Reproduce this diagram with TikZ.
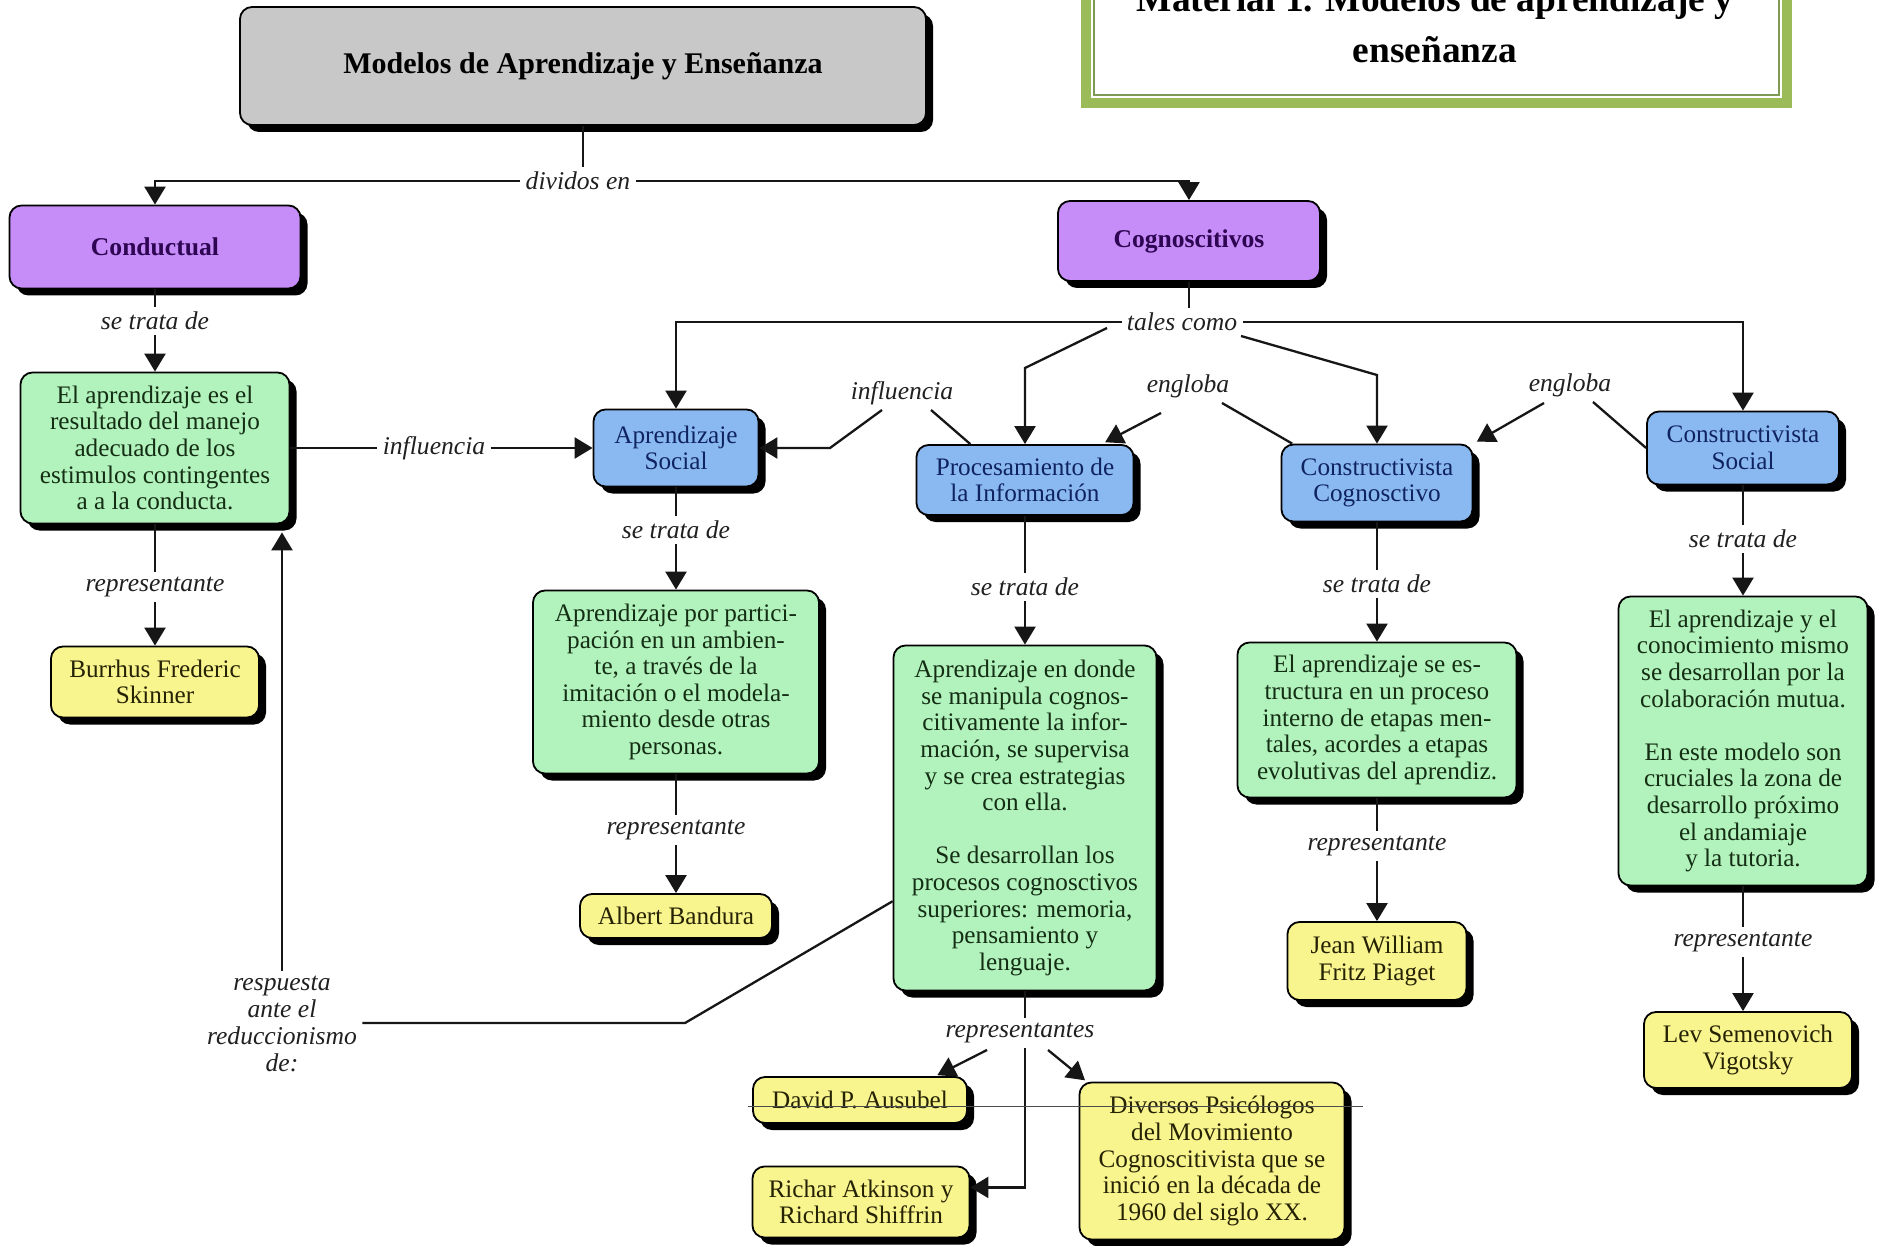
\documentclass[tikz,border=0pt]{standalone}
\usepackage{fontspec}
\setmainfont{Liberation Serif}
\usetikzlibrary{arrows.meta,shadows,calc}

\definecolor{rootgray}{HTML}{C8C8C8}
\definecolor{catpurple}{HTML}{C68CF7}
\definecolor{cattext}{HTML}{2E0552}
\definecolor{modelblue}{HTML}{8AB9F1}
\definecolor{modeltext}{HTML}{0F2360}
\definecolor{ideagreen}{HTML}{B2F2BC}
\definecolor{ideatext}{HTML}{142E14}
\definecolor{personyellow}{HTML}{F8F48E}
\definecolor{persontext}{HTML}{262204}
\definecolor{labeltext}{HTML}{202020}
\definecolor{linecol}{HTML}{161616}
\definecolor{framegreen}{HTML}{9BBB59}
\definecolor{frameinner}{HTML}{7E9A55}

\tikzset{
  conn/.style={draw=linecol, line width=1.15pt},
  arr/.style={conn, -{Triangle[width=10.5pt,length=9pt]}},
  sz/.style 2 args={minimum width=#1*0.5pt, minimum height=#2*0.5pt},
  cbox/.style={draw=black, line width=0.9pt, rounded corners=6pt, align=center,
    inner sep=1pt, font=\fontsize{12.6}{13.3}\selectfont,
    drop shadow={shadow xshift=3.5pt, shadow yshift=-3.5pt, opacity=1, fill=black}},
  rootbox/.style={cbox, fill=rootgray, text=black, font=\fontsize{15}{17}\selectfont\bfseries},
  catbox/.style={cbox, fill=catpurple, text=cattext, font=\fontsize{12.8}{14}\selectfont\bfseries},
  modelbox/.style={cbox, fill=modelblue, text=modeltext},
  ideabox/.style={cbox, fill=ideagreen, text=ideatext},
  personbox/.style={cbox, fill=personyellow, text=persontext},
  lbl/.style={fill=white, inner sep=2.5pt, text=labeltext, align=center,
    font=\fontsize{12.8}{13.5}\selectfont\itshape},
  titletext/.style={inner sep=0pt, text=black, font=\fontsize{18.7}{22}\selectfont\bfseries},
}

\begin{document}
\begin{tikzpicture}[x=0.5pt,y=-0.5pt]
\useasboundingbox (0,0) rectangle (1881,1246);
\clip (0,0) rectangle (1881,1246);
\fill[white] (0,0) rectangle (1881,1246);

% framed heading in the upper right corner
\draw[framegreen, line width=5pt] (1086,-40) rectangle (1787,103);
\draw[frameinner, line width=0.8pt] (1094,-40) rectangle (1779,95);
\node[titletext, anchor=base] (mat1) at (1435,12) {Material 1. Modelos de aprendizaje y};
\node[titletext, anchor=base] (mat2) at (1435,63) {enseñanza};

% root and categories
\node[rootbox, sz={686}{118}] (top) at (583,66) {Modelos de Aprendizaje y Enseñanza};
\node[catbox, sz={291}{83}] (cond) at (155,247) {Conductual};
\node[catbox, sz={262}{80}] (cogn) at (1189,241) {Cognoscitivos};

% conductual branch
\node[ideabox, sz={269}{151}] (g1) at (155,448)
  {El aprendizaje es el\\resultado del manejo\\adecuado de los\\estimulos contingentes\\a a la conducta.};
\node[personbox, sz={208}{71}] (skinner) at (155,682) {Burrhus Frederic\\Skinner};

% cognitive models
\node[modelbox, sz={165}{77}] (asoc) at (676,448) {Aprendizaje\\Social};
\node[modelbox, sz={217}{70}] (proc) at (1025,480) {Procesamiento de\\la Información};
\node[modelbox, sz={191}{77}] (ccog) at (1377,483) {Constructivista\\Cognosctivo};
\node[modelbox, sz={192}{73}] (csoc) at (1743,448) {Constructivista\\Social};

% descriptions
\node[ideabox, sz={286}{183}] (g2) at (676,682)
  {Aprendizaje por partici-\\pación en un ambien-\\te, a través de la\\imitación o el modela-\\miento desde otras\\personas.};
\node[ideabox, sz={263}{345}] (g3) at (1025,818)
  {Aprendizaje en donde\\se manipula cognos-\\citivamente la infor-\\mación, se supervisa\\y se crea estrategias\\con ella.\\[13.3pt]Se desarrollan los\\procesos cognosctivos\\superiores: memoria,\\pensamiento y\\lenguaje.};
\node[ideabox, sz={279}{155}] (g4) at (1377,720)
  {El aprendizaje se es-\\tructura en un proceso\\interno de etapas men-\\tales, acordes a etapas\\evolutivas del aprendiz.};
\node[ideabox, sz={249}{289}] (g5) at (1743,741)
  {El aprendizaje y el\\conocimiento mismo\\se desarrollan por la\\colaboración mutua.\\[13.3pt]En este modelo son\\cruciales la zona de\\desarrollo próximo\\el andamiaje\\y la tutoria.};

% representatives
\node[personbox, sz={192}{44}] (bandura) at (676,916) {Albert Bandura};
\node[personbox, sz={179}{78}] (piaget) at (1377,961) {Jean William\\Fritz Piaget};
\node[personbox, sz={208}{76}] (vig) at (1748,1050) {Lev Semenovich\\Vigotsky};
\node[personbox, sz={214}{46}] (david) at (860,1100) {David P. Ausubel};
\node[personbox, sz={217}{71}] (richar) at (861,1202) {Richar Atkinson y\\Richard Shiffrin};
\node[personbox, sz={265}{157}] (diversos) at (1212,1161)
  {Diversos Psicólogos\\del Movimiento\\Cognoscitivista que se\\inició en la década de\\1960 del siglo XX.};

% linking phrases
\node[lbl] (div) at (578,181) {dividos en};
\node[lbl] (tal) at (1182,322) {tales como};
\node[lbl] (st1) at (155,321) {se trata de};
\node[lbl] (inf1) at (434,448) {influencia};
\node[lbl] (rp1) at (155,587) {representante};
\node[lbl] (resp) at (282,1024) {respuesta\\ante el\\reduccionismo\\de:};
\node[lbl] (st2) at (676,530) {se trata de};
\node[lbl] (rp2) at (676,830) {representante};
\node[lbl] (inf2) at (902,393) {influencia};
\node[lbl] (eng1) at (1188,386) {engloba};
\node[lbl] (eng2) at (1570,385) {engloba};
\node[lbl] (st3) at (1025,587) {se trata de};
\node[lbl] (reps) at (1020,1033) {representantes};
\node[lbl] (st4) at (1377,584) {se trata de};
\node[lbl] (rp4) at (1377,846) {representante};
\node[lbl] (st5) at (1743,539) {se trata de};
\node[lbl] (rp5) at (1743,942) {representante};

% bend points
\coordinate (k1) at (1025,368);
\coordinate (k2) at (1377,375);
\coordinate (k3) at (830,448);
\coordinate (k4) at (685,1023);

% root to categories
\draw[conn] (top.south) -- (top.south |- div.north);
\draw[arr] (div.west) -| (cond.north);
\draw[arr] (div.east) -| (cogn.north);

% conductual branch
\draw[conn] (cond.south) -- (st1.north);
\draw[arr] (st1.south) -- (g1.north);
\draw[conn] (g1.south) -- (rp1.north);
\draw[arr] (rp1.south) -- (skinner.north);
\draw[conn] (g1.east) -- (inf1.west);
\draw[arr] (inf1.east) -- (asoc.west);

% response to reductionism
\draw[arr, shorten >=4pt] (resp.north) -- (resp.north |- g1.south);
\draw[conn] (resp.east |- k4) -- (k4) -- ($(g3.north west)!0.74!(g3.south west)$);

% cognitive branch
\draw[conn] (cogn.south) -- (cogn.south |- tal.north);
\draw[arr] (tal.west) -| (asoc.north);
\draw[arr] (tal.east) -| (csoc.north);
\draw[arr] ($(tal.center)+(-75,6)$) -- (k1) -- (proc.north);
\draw[arr] ($(tal.center)+(59,14)$) -- (k2) -- (ccog.north);

% influence and inclusion links
\draw[conn] ($(proc.north west)!0.25!(proc.north east)$) -- ($(inf2.center)+(29,17)$);
\draw[arr] ($(inf2.center)+(-20,17)$) -- (k3) -- (asoc.east);
\draw[conn] ($(ccog.north west)!0.06!(ccog.north east)$) -- ($(eng1.center)+(34,17)$);
\draw[arr, shorten >=2pt] ($(eng1.center)+(-27,27)$) -- ($(proc.north west)!0.85!(proc.north east)$);
\draw[conn] (csoc.west) -- ($(eng2.center)+(23,17)$);
\draw[arr, shorten >=2pt] ($(eng2.center)+(-26,18)$) -- (ccog.north east);

% model descriptions and representatives
\draw[conn] (asoc.south) -- (st2.north);
\draw[arr] (st2.south) -- (g2.north);
\draw[conn] (g2.south) -- (rp2.north);
\draw[arr] (rp2.south) -- (bandura.north);

\draw[conn] (proc.south) -- (st3.north);
\draw[arr] (st3.south) -- (g3.north);
\draw[conn] (g3.south) -- (g3.south |- reps.north);
\draw[arr] (g3.south |- reps.south) |- ($(richar.north east)!0.3!(richar.south east)$);
\draw[arr, shorten >=1pt] ($(reps.center)+(-33,17)$) -- ($(david.north west)!0.85!(david.north east)$);
\draw[arr, shorten >=1pt] ($(reps.center)+(28,17)$) -- ($(diversos.north west)!0.03!(diversos.north east)$);

\draw[conn] (ccog.south) -- (st4.north);
\draw[arr] (st4.south) -- (g4.north);
\draw[conn] (g4.south) -- (rp4.north);
\draw[arr] (rp4.south) -- (piaget.north);

\draw[conn] (csoc.south) -- (st5.north);
\draw[arr] (st5.south) -- (g5.north);
\draw[conn] (g5.south) -- (rp5.north);
\draw[arr] (rp5.south) -- (rp5.south |- vig.north);

% thin rule crossing the lower boxes
\draw[black!70, line width=0.5pt] (748,1106) -- (1363,1106);
\end{tikzpicture}
\end{document}
